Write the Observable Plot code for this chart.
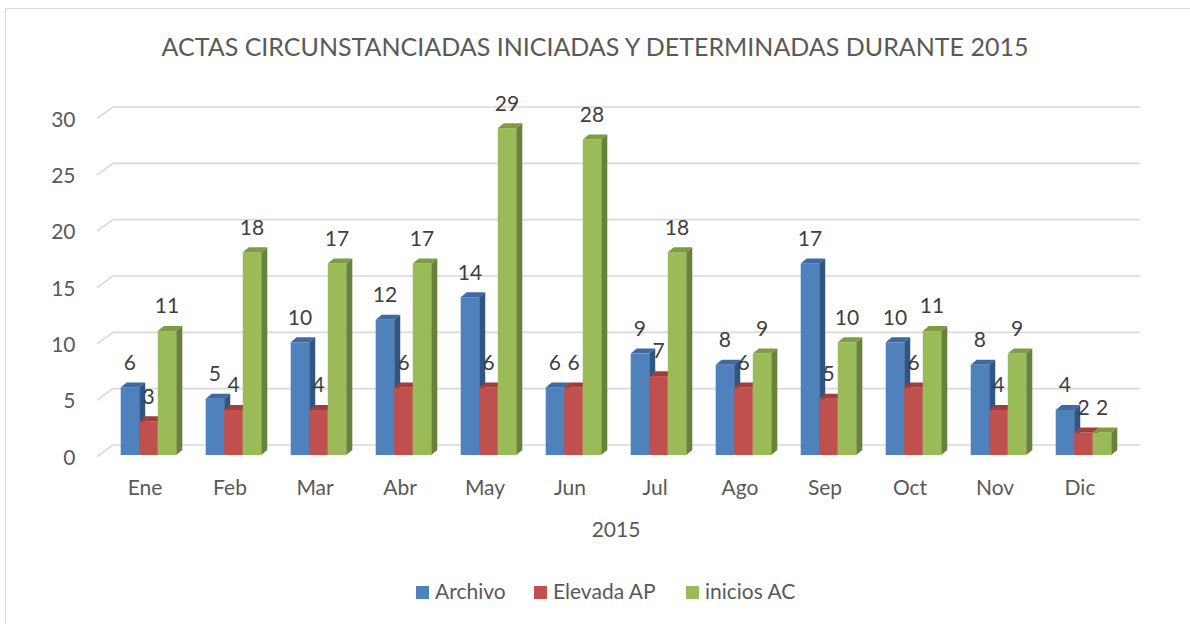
<!DOCTYPE html>
<html>
<head>
<meta charset="utf-8">
<script src="https://cdn.jsdelivr.net/npm/d3@7"></script>
<script src="https://cdn.jsdelivr.net/npm/@observablehq/plot@0.6"></script>
<style>
  html, body { margin: 0; padding: 0; background: #fff; overflow: hidden; }
  body { width: 1190px; height: 624px; position: relative; font-family: Lato, "Noto Sans", sans-serif; }
  #frame { position: absolute; left: 5px; top: 8px; width: 1300px; height: 800px; border: 1px solid #d9d9d9; box-sizing: border-box; }
  #title { position: absolute; left: 0; width: 1190px; top: 31px; line-height: 30px; text-align: center; font-size: 25px; color: #595959; }
  #chart { position: absolute; left: 0; top: 80px; }
  #legend { position: absolute; top: 579px; left: 0; width: 1190px; font-size: 21px; line-height: 24px; color: #595959; }
  .li { position: absolute; top: 0; white-space: nowrap; }
  .sw { display: inline-block; width: 13px; height: 13px; margin-right: 6px; vertical-align: 0px; }
</style>
</head>
<body>
<div id="frame"></div>
<div id="title">ACTAS CIRCUNSTANCIADAS INICIADAS Y DETERMINADAS DURANTE 2015</div>
<div id="chart"></div>
<div id="legend"></div>
<script>
const months = ["Ene","Feb","Mar","Abr","May","Jun","Jul","Ago","Sep","Oct","Nov","Dic"];
const seriesNames = ["Archivo","Elevada AP","inicios AC"];
const archivo   = [6, 5, 10, 12, 14, 6, 9, 8, 17, 10, 8, 4];
const elevadaAP = [3, 4, 4, 6, 6, 6, 7, 6, 5, 6, 4, 2];
const iniciosAC = [11, 18, 17, 17, 29, 28, 18, 9, 10, 11, 9, 2];
const yTicks = [0, 5, 10, 15, 20, 25, 30];
const xLabel = "2015";

const colors = {
  front: ["#4f81bd", "#c0504d", "#9bbb59"],
  top:   ["#3e6aa1", "#a13e3b", "#7e9c43"],
  side:  ["#2f5582", "#8a3432", "#67823a"]
};

const values = [archivo, elevadaAP, iniciosAC];
const data = [];
months.forEach((m, i) => seriesNames.forEach((s, j) => data.push({month: m, series: s, si: j, value: values[j][i]})));

const W = 1190, H = 480;
const ns = "http://www.w3.org/2000/svg";
const el = (tag, attrs) => { const e = document.createElementNS(ns, tag); for (const k in attrs) e.setAttribute(k, attrs[k]); return e; };

const groupFrac = 56 / 85.6;
const depthX = 6, depthY = 5;
const FONT = "Lato, 'Noto Sans', sans-serif";

// Grid (back wall with perspective connectors)
function grid(index, scales, vals, dims) {
  const g = el("g", {fill: "none", stroke: "#d9d9d9", "stroke-width": 1.6});
  const xr = dims.width - dims.marginRight;
  for (const t of yTicks) {
    const y = scales.y(t);
    g.appendChild(el("path", {d: `M97,${y + 1.5}L113,${y - 10}L${xr + 11},${y - 10}`}));
  }
  return g;
}

// 3D bars
function bars3d(index, scales, vals, dims) {
  const g = el("g", {});
  const x = scales.x;
  const step = x.bandwidth ? x.bandwidth() : (dims.width - dims.marginLeft - dims.marginRight) / months.length;
  const gw = step * groupFrac;
  const w = gw / 3;
  const y0 = scales.y(0);
  for (const d of data) {
    const gx = x(d.month) + (step - gw) / 2;
    const x0 = gx + d.si * w;
    const yt = scales.y(d.value);
    g.appendChild(el("rect", {x: x0, y: yt, width: w, height: y0 - yt, fill: colors.front[d.si]}));
    g.appendChild(el("path", {d: `M${x0},${yt}L${x0 + depthX},${yt - depthY}L${x0 + w + depthX},${yt - depthY}L${x0 + w},${yt}Z`, fill: colors.top[d.si]}));
    g.appendChild(el("path", {d: `M${x0 + w},${yt}L${x0 + w + depthX},${yt - depthY}L${x0 + w + depthX},${y0 - depthY}L${x0 + w},${y0}Z`, fill: colors.side[d.si]}));
  }
  return g;
}

// Data labels
function labels(index, scales, vals, dims) {
  const g = el("g", {"font-size": 21, fill: "#404040", "text-anchor": "middle", "font-family": FONT});
  const x = scales.x;
  const step = x.bandwidth ? x.bandwidth() : (dims.width - dims.marginLeft - dims.marginRight) / months.length;
  const gw = step * groupFrac;
  const w = gw / 3;
  for (const d of data) {
    const gx = x(d.month) + (step - gw) / 2;
    const cx = gx + d.si * w + w / 2;
    const t = el("text", {x: cx, y: scales.y(d.value) - 25, dy: "0.35em"});
    t.textContent = d.value;
    g.appendChild(t);
  }
  return g;
}

const plot = Plot.plot({
  width: W,
  height: H,
  marginLeft: 102,
  marginRight: 61,
  marginTop: 37,
  marginBottom: 105,
  style: {fontFamily: FONT, fontSize: "21px", color: "#595959", background: "transparent"},
  x: {type: "band", domain: months, padding: 0},
  y: {domain: [0, 30]},
  marks: [
    grid,
    Plot.axisY(yTicks, {tickSize: 0, tickPadding: 27, dy: 2.5, label: null, fontSize: 21, fill: "#595959"}),
    Plot.axisX({tickSize: 0, tickPadding: 25, dx: -4, label: null, fontSize: 21, fill: "#595959"}),
    Plot.text([xLabel], {frameAnchor: "bottom", dy: 81, fontSize: 21, fill: "#595959"}),
    bars3d,
    labels
  ]
});
document.getElementById("chart").appendChild(plot);

// Legend
const legend = document.getElementById("legend");
const lx = [416, 534, 686];
seriesNames.forEach((s, i) => {
  const d = document.createElement("div");
  d.className = "li";
  d.style.left = lx[i] + "px";
  d.innerHTML = `<span class="sw" style="background:${colors.front[i]}"></span>${s}`;
  legend.appendChild(d);
});
</script>
</body>
</html>
